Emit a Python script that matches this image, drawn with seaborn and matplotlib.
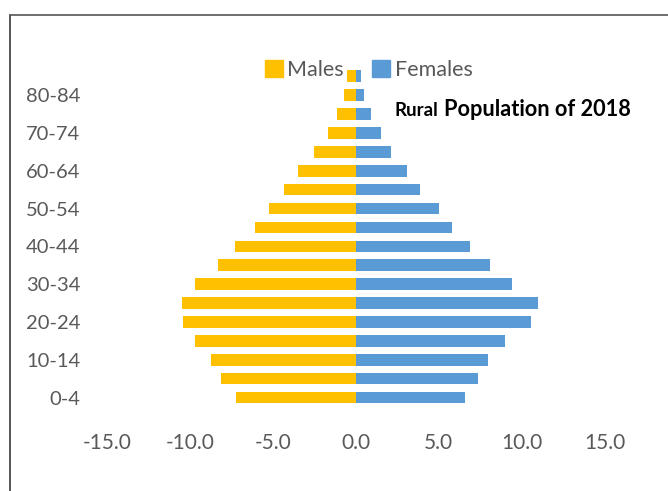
import matplotlib.pyplot as plt
import seaborn as sns
from matplotlib.lines import Line2D
from matplotlib.patches import Patch

# Data (percent of rural population, 2018)
age_groups = ['0-4', '5-9', '10-14', '15-19', '20-24', '25-29', '30-34', '35-39',
              '40-44', '45-49', '50-54', '55-59', '60-64', '65-69', '70-74',
              '75-79', '80-84', '85+']
males = [7.2, 8.1, 8.7, 9.7, 10.4, 10.5, 9.7, 8.3, 7.3, 6.1, 5.2, 4.3, 3.5,
         2.5, 1.7, 1.1, 0.7, 0.5]
females = [6.6, 7.4, 8.0, 9.0, 10.6, 11.0, 9.4, 8.1, 6.9, 5.8, 5.0, 3.9, 3.1,
           2.1, 1.5, 0.9, 0.5, 0.3]
shown_labels = age_groups[::2]
x_ticks = [-15, -10, -5, 0, 5, 10, 15]

male_color = '#FFC000'
female_color = '#5B9BD5'
text_grey = '#595959'

sns.set_theme(style='white')
plt.rcParams['font.family'] = ['Lato', 'DejaVu Sans']

fig = plt.figure(figsize=(6.68, 4.91), dpi=100)
ax = fig.add_axes([107 / 668, 0.171, 497.4 / 668, 0.693])

order = age_groups[::-1]
sns.barplot(x=[-m for m in males], y=age_groups, order=order, orient='h',
            color=male_color, saturation=1, width=0.61, linewidth=0, ax=ax)
sns.barplot(x=females, y=age_groups, order=order, orient='h',
            color=female_color, saturation=1, width=0.61, linewidth=0, ax=ax)

ax.set_xlim(-15, 15)
ax.set_ylim(17.5, -0.5)
ax.set_xticks(x_ticks)
ax.set_xticklabels([f'{v:.1f}' for v in x_ticks])
ax.set_yticks(range(len(order)))
ax.set_yticklabels([a if a in shown_labels else '' for a in order])
ax.tick_params(axis='x', length=0, pad=19, labelsize=15, labelcolor=text_grey)
ax.tick_params(axis='y', length=0, pad=19, labelsize=14.5, labelcolor=text_grey)
ax.set_xlabel('')
ax.set_ylabel('')
sns.despine(ax=ax, left=True, bottom=True)

handles = [Patch(color=male_color, label='Males'),
           Patch(color=female_color, label='Females')]
fig.legend(handles=handles, loc='center', bbox_to_anchor=(0.552, 0.857), ncol=2,
           frameon=False, fontsize=15.5, labelcolor=text_grey, handlelength=0.85,
           handleheight=0.85, handletextpad=0.2, columnspacing=1.3)

fig.text(394 / 668, 1 - 116.5 / 491, 'Rural', fontsize=13.5, fontweight='bold',
         va='baseline', ha='left', color='black')
fig.text(444 / 668, 1 - 116.5 / 491, 'Population of 2018', fontsize=15.7,
         fontweight='bold', va='baseline', ha='left', color='black')

# border of the cropped chart frame
fig.add_artist(Line2D([9.5 / 668, 9.5 / 668], [0, 1 - 15 / 491],
                      color='#555555', lw=1.4))
fig.add_artist(Line2D([9.5 / 668, 1], [1 - 15 / 491, 1 - 15 / 491],
                      color='#555555', lw=1.2))

fig.savefig('out.png', dpi=100)
